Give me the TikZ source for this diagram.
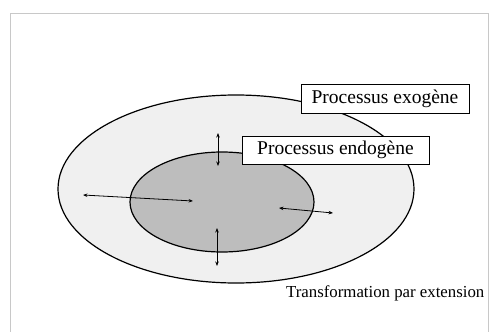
\documentclass[tikz,border=0pt]{standalone}
\usepackage{fontspec}
\setmainfont{Liberation Serif}
\usetikzlibrary{arrows.meta,shapes.geometric}
\definecolor{outerfill}{HTML}{F0F0F0}
\definecolor{innerfill}{HTML}{BDBDBD}
\definecolor{framegray}{HTML}{C8C8C8}
\tikzset{
  labelbox/.style={draw=black, line width=0.8pt, fill=white, inner sep=0pt, font=\fontsize{19.5}{21}\selectfont},
  dblarrow/.style={{Stealth[length=4.5pt,width=3.5pt]}-{Stealth[length=4.5pt,width=3.5pt]}, line width=0.8pt},
  ring/.style={draw=black, line width=1.2pt}
}
\begin{document}
\begin{tikzpicture}[x=1pt,y=-1pt]
\useasboundingbox (0,0) rectangle (491,332);
\fill[white] (0,0) rectangle (491,332);
\draw[framegray, line width=0.8pt] (10,13) -- (488,13) -- (488,340);
\draw[framegray, line width=0.8pt] (10,13) -- (10,340);
% ellipses
\node[ring, ellipse, fill=outerfill, minimum width=356pt, minimum height=188pt, inner sep=0pt] (outer) at (236,189) {};
\node[ring, ellipse, fill=innerfill, minimum width=184pt, minimum height=100pt, inner sep=0pt] (inner) at (222,202) {};
% labels
\node[labelbox, minimum width=168pt, minimum height=29pt] (exo) at (385,98.5) {Processus exogène};
\node[labelbox, minimum width=187pt, minimum height=28pt] (endo) at (335.5,150) {Processus endogène};
% arrows
\coordinate (t1) at (218,133);
\coordinate (t2) at (218,166);
\coordinate (l1) at (83,195);
\coordinate (l2) at (193,201);
\coordinate (r1) at (279,208);
\coordinate (r2) at (333,213);
\coordinate (b1) at (217,228);
\coordinate (b2) at (217,266);
\draw[dblarrow] (t1) -- (t2);
\draw[dblarrow] (l1) -- (l2);
\draw[dblarrow] (r1) -- (r2);
\draw[dblarrow] (b1) -- (b2);
\node[font=\fontsize{16.8}{18}\selectfont, anchor=west, inner sep=0pt] (trans) at (286,293) {Transformation par extension};
\end{tikzpicture}
\end{document}
